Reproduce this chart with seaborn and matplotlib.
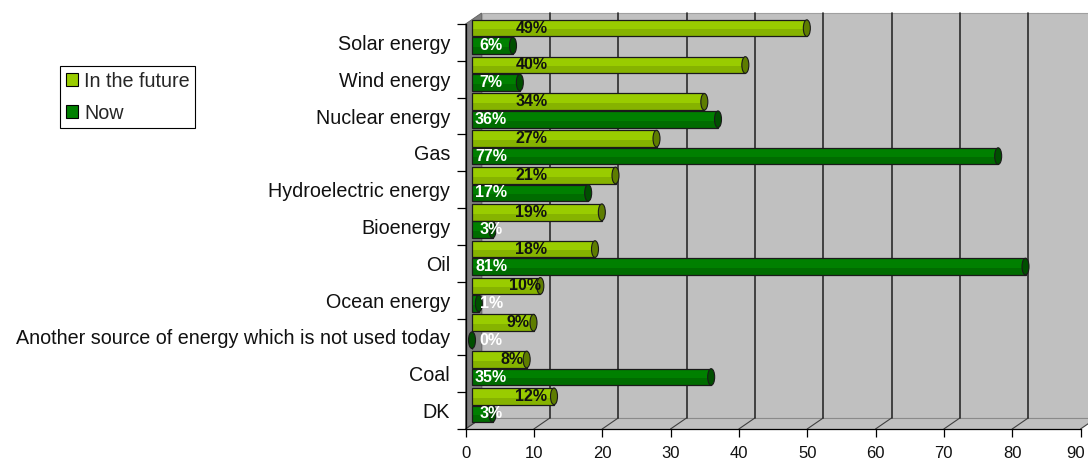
import numpy as np
import pandas as pd
import matplotlib
matplotlib.use("Agg")
import matplotlib.pyplot as plt
import seaborn as sns
from matplotlib.patches import Polygon, Rectangle, Ellipse, Patch
from matplotlib.lines import Line2D
from matplotlib.transforms import ScaledTranslation, IdentityTransform

# ---- data -------------------------------------------------------------
categories = [
    "Solar energy", "Wind energy", "Nuclear energy", "Gas",
    "Hydroelectric energy", "Bioenergy", "Oil", "Ocean energy",
    "Another source of energy which is not used today", "Coal", "DK",
]
future = [49, 40, 34, 27, 21, 19, 18, 10, 9, 8, 12]
now = [6, 7, 36, 77, 17, 3, 81, 1, 0, 35, 3]
series_names = ["In the future", "Now"]
x_ticks = [0, 10, 20, 30, 40, 50, 60, 70, 80, 90]

# ---- style ------------------------------------------------------------
sns.set_theme(style="white")
plt.rcParams["font.family"] = ["Liberation Sans", "DejaVu Sans"]

DPI = 100
W, H = 1088, 462
LIGHT, DARK = "#99CC00", "#008000"
LIGHT_SHADE, DARK_SHADE = "#86B300", "#006C00"
LIGHT_CAP, DARK_CAP = "#5E7D00", "#004F00"
WALL = "#C0C0C0"
DEPTH = np.array([16.0, 11.0])      # pixel shift from front plane to back wall
BAR_SHIFT = (6.5, 5.5)              # bars sit half-way into the depth
LABEL_SIZE = 14.2

fig = plt.figure(figsize=(W / DPI, H / DPI), dpi=DPI)
fig.patch.set_facecolor("white")
ax = fig.add_axes([465.5 / W, 33 / H, 615.0 / W, 405 / H])
ax.set_facecolor("none")

df = pd.DataFrame({
    "source": categories * 2,
    "share": future + now,
    "period": [series_names[0]] * len(categories) + [series_names[1]] * len(categories),
})

sns.barplot(
    data=df, x="share", y="source", hue="period", hue_order=series_names,
    palette=[LIGHT, DARK], orient="h", width=0.95, gap=0.05, saturation=1,
    errorbar=None, edgecolor="none", linewidth=0, legend=False, ax=ax, zorder=3,
)

ax.set_xlim(0, 90)
ax.set_ylim(len(categories) - 0.5, -0.5)
ax.set_xlabel("")
ax.set_ylabel("")


def P(x, y, d=0.0):
    """Display position of a data point pushed d of the way into the depth."""
    return ax.transData.transform((x, y)) + d * DEPTH


ident = IdentityTransform()
y_top, y_bot = -0.5, len(categories) - 0.5

# back wall, floor and left side wall of the 3-D box
ax.add_patch(Polygon([P(0, y_top, 1), P(90, y_top, 1), P(90, y_bot, 1), P(0, y_bot, 1)],
                     closed=True, fc=WALL, ec="#A0A0A0", lw=0.8,
                     transform=ident, clip_on=False, zorder=0.2))
ax.add_patch(Polygon([P(0, y_bot, 0), P(90, y_bot, 0), P(90, y_bot, 1), P(0, y_bot, 1)],
                     closed=True, fc=WALL, ec="none",
                     transform=ident, clip_on=False, zorder=0.3))
ax.add_patch(Polygon([P(0, y_top, 0), P(0, y_top, 1), P(0, y_bot, 1), P(0, y_bot, 0)],
                     closed=True, fc="#808080", ec="#606060", lw=0.6,
                     transform=ident, clip_on=False, zorder=0.4))

# gridlines on the back wall and their diagonals across the floor
for t in x_ticks:
    a, b = P(t, y_bot, 0), P(t, y_bot, 1)
    ax.add_line(Line2D([a[0], b[0]], [a[1], b[1]], color="#404040", lw=0.8,
                       transform=ident, clip_on=False, zorder=0.5))
    if t > 0:
        c = P(t, y_top, 1)
        ax.add_line(Line2D([b[0], c[0]], [b[1], c[1]], color="#2A2A2A", lw=1.2,
                           transform=ident, clip_on=False, zorder=0.5))
a, b = P(0, y_bot, 1), P(90, y_bot, 1)
ax.add_line(Line2D([a[0], b[0]], [a[1], b[1]], color="#8A8A8A", lw=0.8,
                   transform=ident, clip_on=False, zorder=0.45))

# cylinder-like bars: shaded lower half, outline and an end cap
bar_tr = ax.transData + ScaledTranslation(BAR_SHIFT[0] / DPI, BAR_SHIFT[1] / DPI,
                                          fig.dpi_scale_trans)
cap_w = 7 / (ax.transData.transform((1, 0))[0] - ax.transData.transform((0, 0))[0])
shades = [LIGHT_SHADE, DARK_SHADE]
caps = [LIGHT_CAP, DARK_CAP]
values = [future, now]
for k, cont in enumerate(ax.containers[:2]):
    for rect, v in zip(cont, values[k]):
        rect.set_transform(bar_tr)
        rect.set_clip_on(False)
        x0, y0 = rect.get_x(), rect.get_y()
        w, h = rect.get_width(), rect.get_height()
        ax.add_patch(Rectangle((x0, y0 + 0.58 * h), w, 0.42 * h, fc=shades[k], ec="none",
                               transform=bar_tr, clip_on=False, zorder=3.1))
        ax.add_patch(Rectangle((x0, y0), w, h, fill=False, ec="#1A1A1A", lw=0.9,
                               transform=bar_tr, clip_on=False, zorder=3.2))
        ax.add_patch(Ellipse((x0 + w, y0 + h / 2), cap_w, h, fc=caps[k], ec="#1A1A1A",
                             lw=0.8, transform=bar_tr, clip_on=False, zorder=3.3))
        yc = y0 + h / 2
        if k == 0:
            ax.text(min(8.7, v - 2.2), yc, f"{v}%", transform=bar_tr, ha="center",
                    va="center", fontsize=11.5, fontweight="bold",
                    color="#111111", zorder=4)
        else:
            ax.text(2.8, yc, f"{v}%", transform=bar_tr, ha="center", va="center",
                    fontsize=11.5, fontweight="bold", color="white", zorder=4)

# front axes
for side in ("top", "right"):
    ax.spines[side].set_visible(False)
for side in ("left", "bottom"):
    ax.spines[side].set_color("black")
    ax.spines[side].set_linewidth(0.9)
    ax.spines[side].set_zorder(5)

ax.set_xticks(x_ticks)
ax.set_xticklabels([str(t) for t in x_ticks])
ax.set_yticks(range(len(categories)))
ax.set_yticklabels(categories)
ax.set_yticks(np.arange(-0.5, len(categories), 1.0), minor=True)
ax.tick_params(axis="x", which="major", direction="out", length=6, width=0.9,
               color="black", pad=6, labelsize=12, labelcolor="#111111",
               bottom=True)
ax.tick_params(axis="y", which="major", length=0, pad=11, labelsize=LABEL_SIZE,
               labelcolor="#111111", left=True)
ax.tick_params(axis="y", which="minor", direction="out", length=6.5, width=0.9,
               color="black", left=True)
ax.grid(False)

# keep the last tick label inside the canvas
last = ax.get_xticklabels()[-1]
last.set_transform(last.get_transform() + ScaledTranslation(-5 / DPI, 0, fig.dpi_scale_trans))

handles = [Patch(fc=LIGHT, ec="black", lw=0.8), Patch(fc=DARK, ec="black", lw=0.8)]
leg = fig.legend(handles, series_names, loc="upper left",
                 bbox_to_anchor=(60 / W, 1 - 66 / H), frameon=True, fancybox=False,
                 edgecolor="black", framealpha=1, fontsize=LABEL_SIZE,
                 handlelength=0.62, handleheight=0.62, handletextpad=0.32,
                 borderpad=0.28, labelspacing=0.66, borderaxespad=0)
leg.get_frame().set_linewidth(0.8)

ax.set_xlim(0, 90)
ax.set_ylim(len(categories) - 0.5, -0.5)
fig.savefig("out.png", dpi=DPI)
